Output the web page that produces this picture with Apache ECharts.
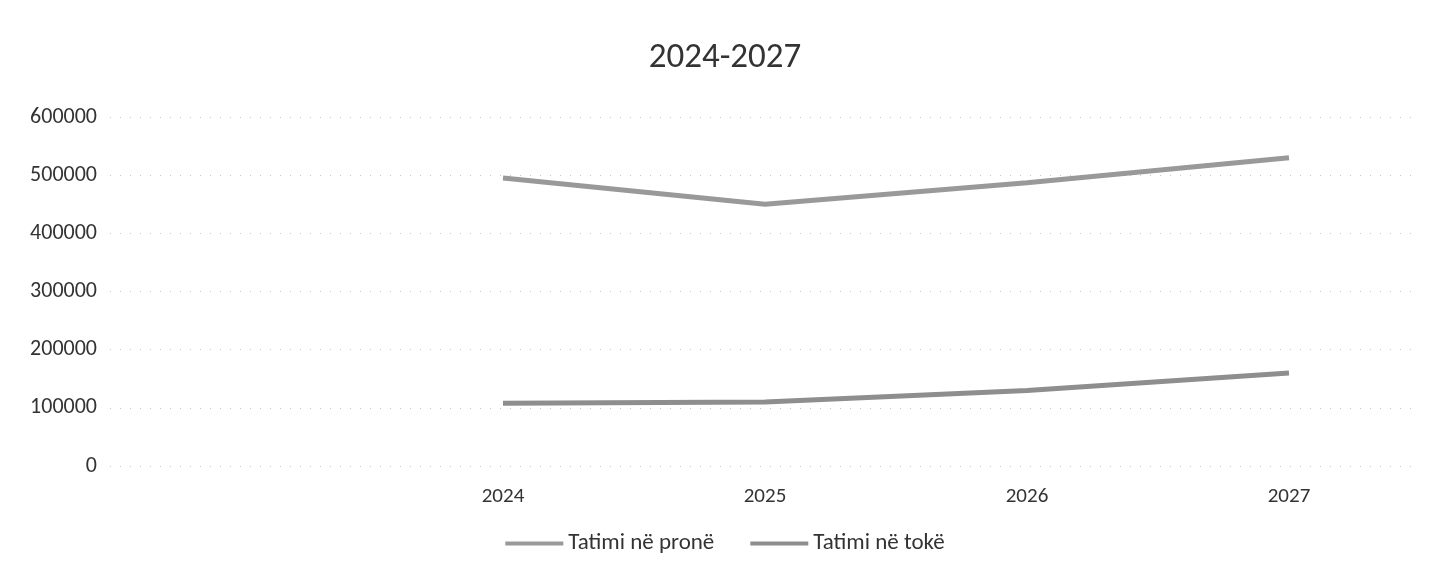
<!DOCTYPE html>
<html>
<head>
<meta charset="utf-8">
<script src="https://cdn.jsdelivr.net/npm/echarts@6/dist/echarts.min.js"></script>
<style>
  html, body { margin: 0; padding: 0; background: #fff; }
  #chart { width: 1450px; height: 585px; }
</style>
</head>
<body>
<div id="chart"></div>
<script>
  // data
  var years = ['', '2024', '2025', '2026', '2027'];
  var tatimiProne = [null, 495000, 450000, 487000, 530000];
  var tatimiToke = [null, 108000, 110000, 130000, 160000];
  var yTicks = [0, 600000, 100000]; // min, max, step

  var font = 'Carlito, Lato, "Noto Sans", sans-serif';
  var chart = echarts.init(document.getElementById('chart'));

  var option = {
    animation: false,
    backgroundColor: '#fff',
    title: {
      text: '2024-2027',
      left: 'center',
      top: 36,
      textStyle: { color: '#333', fontSize: 35, fontWeight: 'normal', fontFamily: font }
    },
    legend: {
      bottom: 25,
      left: 'center',
      itemWidth: 58,
      itemHeight: 4,
      itemGap: 36,
      icon: 'rect',
      textStyle: { color: '#333', fontSize: 23, fontFamily: font },
      data: ['Tatimi në pronë', 'Tatimi në tokë']
    },
    grid: { left: 110, right: 30, top: 117, bottom: 119 },
    xAxis: {
      type: 'category',
      data: years,
      boundaryGap: true,
      axisLine: { show: false },
      axisTick: { show: false },
      axisLabel: { color: '#333', fontSize: 21, fontFamily: font, margin: 20 }
    },
    yAxis: {
      type: 'value',
      min: yTicks[0],
      max: yTicks[1],
      interval: yTicks[2],
      axisLine: { show: false },
      axisTick: { show: false },
      axisLabel: {
        color: '#333', fontSize: 22, fontFamily: font, margin: 13,
        formatter: function (v) { return String(v); }
      },
      splitLine: { lineStyle: { color: '#c8c8c8', type: [1, 9], width: 1 } }
    },
    series: [
      {
        name: 'Tatimi në pronë',
        type: 'line',
        data: tatimiProne,
        showSymbol: false,
        symbol: 'none',
        itemStyle: { color: '#999999' },
        lineStyle: { color: '#999999', width: 5 }
      },
      {
        name: 'Tatimi në tokë',
        type: 'line',
        data: tatimiToke,
        showSymbol: false,
        symbol: 'none',
        itemStyle: { color: '#8e8e8e' },
        lineStyle: { color: '#8e8e8e', width: 5 }
      }
    ]
  };

  chart.setOption(option);
</script>
</body>
</html>
